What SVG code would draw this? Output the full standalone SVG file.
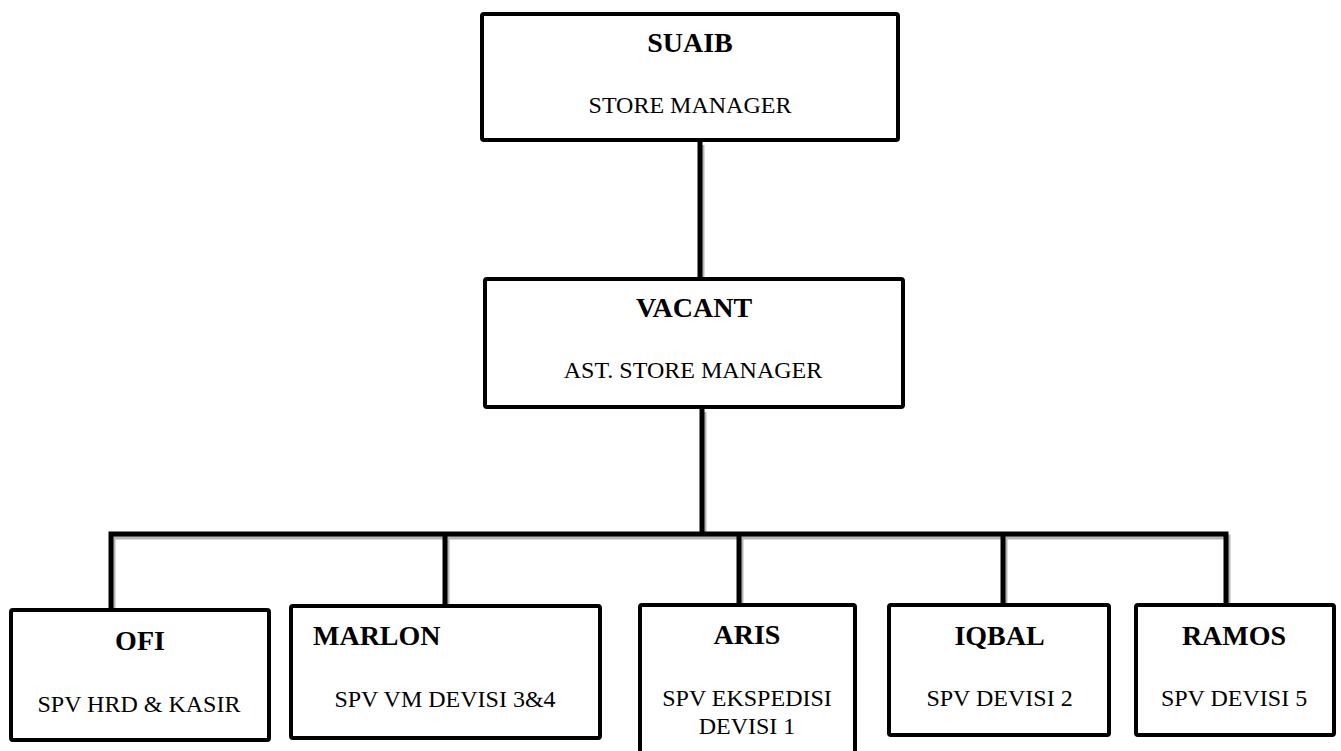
<svg xmlns="http://www.w3.org/2000/svg" width="1341" height="751" viewBox="0 0 1341 751">
<style>
.box{fill:#fff;stroke:#000;stroke-width:4;}
.name{font-family:"Liberation Serif","Times New Roman",serif;font-weight:bold;font-size:28px;fill:#000;text-anchor:middle;}
.title{font-family:"Liberation Serif","Times New Roman",serif;font-size:24px;fill:#000;text-anchor:middle;}
.conn{fill:none;stroke:#000;stroke-width:5;stroke-linejoin:miter;stroke-linecap:butt;}
.shadow{fill:none;stroke:#b5b5b5;stroke-width:5;}
</style>
<rect width="1341" height="751" fill="#fff"/>
<g id="connectors">
  <g class="shadow" transform="translate(2,3)">
    <path d="M700,142 V277"/>
    <path d="M702,409 V534"/>
    <path d="M111,608 V534 H1226 V603"/>
    <path d="M445,534 V604"/>
    <path d="M739,534 V603"/>
    <path d="M1003,534 V603"/>
  </g>
  <g class="conn">
    <path d="M700,142 V279"/>
    <path d="M702,407 V534"/>
    <path d="M111,610 V534 H1226 V605"/>
    <path d="M445,534 V606"/>
    <path d="M739,534 V605"/>
    <path d="M1003,534 V605"/>
  </g>
</g>
<g id="suaib">
  <rect class="box" x="482" y="14" width="416" height="126" rx="2"/>
  <text class="name" x="690" y="52">SUAIB</text>
  <text class="title" x="690" y="113">STORE MANAGER</text>
</g>
<g id="vacant">
  <rect class="box" x="485" y="279" width="418" height="128" rx="2"/>
  <text class="name" x="694" y="317">VACANT</text>
  <text class="title" x="693" y="378">AST. STORE MANAGER</text>
</g>
<g id="ofi">
  <rect class="box" x="11" y="610" width="258" height="130" rx="2"/>
  <text class="name" x="140" y="650">OFI</text>
  <text class="title" x="139" y="712">SPV HRD &amp; KASIR</text>
</g>
<g id="marlon">
  <rect class="box" x="291" y="606" width="309" height="132" rx="2"/>
  <text class="name" x="313" y="645" style="text-anchor:start">MARLON</text>
  <text class="title" x="445" y="707">SPV VM DEVISI 3&amp;4</text>
</g>
<g id="aris">
  <rect class="box" x="640" y="605" width="215" height="170" rx="2"/>
  <text class="name" x="747" y="644">ARIS</text>
  <text class="title" x="747" y="706">SPV EKSPEDISI</text>
  <text class="title" x="747" y="734">DEVISI 1</text>
</g>
<g id="iqbal">
  <rect class="box" x="889" y="605" width="220" height="130" rx="2"/>
  <text class="name" x="999.5" y="645">IQBAL</text>
  <text class="title" x="999.5" y="706">SPV DEVISI 2</text>
</g>
<g id="ramos">
  <rect class="box" x="1136" y="605" width="198" height="130" rx="2"/>
  <text class="name" x="1234" y="645">RAMOS</text>
  <text class="title" x="1234" y="706">SPV DEVISI 5</text>
</g>
</svg>
